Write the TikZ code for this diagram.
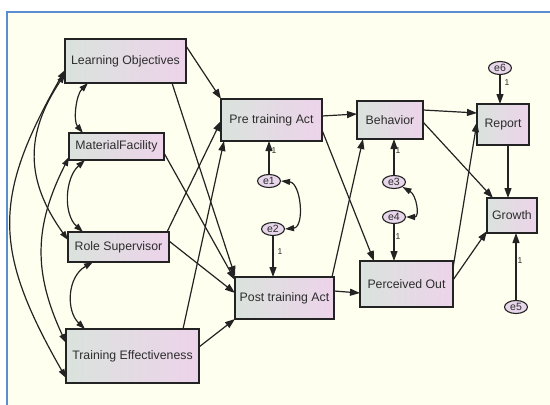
\documentclass[tikz,border=0pt]{standalone}
\usepackage{fontspec}
\setmainfont{Liberation Sans}
\usetikzlibrary{arrows.meta,calc,shapes.geometric}

\definecolor{bgcream}{RGB}{255,255,240}
\definecolor{frameblue}{RGB}{90,142,208}
\definecolor{boxleft}{RGB}{218,227,221}
\definecolor{boxright}{RGB}{237,211,234}
\definecolor{errfill}{RGB}{232,214,234}
\definecolor{ink}{RGB}{35,35,35}
\definecolor{txt}{RGB}{45,45,45}

\begin{document}
\begin{tikzpicture}[x=1pt,y=-1pt,
  varbox/.style={draw=ink, line width=1.3pt, left color=boxleft, right color=boxright,
    text=txt, font=\fontsize{12.3}{14}\selectfont, inner sep=0pt},
  errnode/.style={ellipse, draw=ink, line width=1.1pt, fill=errfill, text=txt,
    font=\fontsize{10.5}{12}\selectfont, inner sep=0pt, minimum width=23pt, minimum height=13pt},
  patharrow/.style={draw=ink, line width=1.2pt, -{Triangle[length=10pt,width=7pt]}},
  cov/.style={draw=ink, line width=1.2pt, {Triangle[length=9pt,width=6pt]}-{Triangle[length=9pt,width=6pt]}},
  onelbl/.style={font=\fontsize{8.5}{9}\selectfont, text=txt, inner sep=0pt}
]
\useasboundingbox (0,0) rectangle (550,405);
\clip (0,0) rectangle (550,405);
\fill[white] (0,0) rectangle (550,405);
\draw[frameblue, line width=1.6pt, fill=bgcream] (7,12) rectangle (560,415);

% observed variables
\node[varbox, minimum width=121pt, minimum height=44pt] (lo) at (125.5,61) {Learning Objectives};
\node[varbox, minimum width=95pt, minimum height=27pt] (mf) at (116.5,146.5) {MaterialFacility};
\node[varbox, minimum width=101pt, minimum height=30pt] (rs) at (118.5,247) {Role Supervisor};
\node[varbox, minimum width=133pt, minimum height=54pt] (te) at (132.5,356) {Training Effectiveness};
\node[varbox, minimum width=101pt, minimum height=42pt] (pre) at (271.5,120) {Pre training Act};
\node[varbox, minimum width=99pt, minimum height=42pt] (post) at (284.5,298) {Post training Act};
\node[varbox, minimum width=66pt, minimum height=38pt] (beh) at (390,120) {Behavior};
\node[varbox, minimum width=93pt, minimum height=46pt] (per) at (406.5,284) {Perceived Out};
\node[varbox, minimum width=52pt, minimum height=41pt] (rep) at (503,124.5) {Report};
\node[varbox, minimum width=50pt, minimum height=35pt] (gro) at (512,215.5) {Growth};

% error terms
\node[errnode] (e1) at (269,181) {e1};
\node[errnode] (e2) at (273,229) {e2};
\node[errnode] (e3) at (394,182) {e3};
\node[errnode] (e4) at (394,217) {e4};
\node[errnode] (e5) at (516,307) {e5};
\node[errnode] (e6) at (500,68) {e6};

% regression paths
\draw[patharrow] ($(lo.center)+(60.5,-15)$) -- ($(pre.center)+(-50.5,-21)$);
\draw[patharrow] ($(lo.center)+(46.5,22)$) -- ($(post.center)+(-49.5,-22)$);
\draw[patharrow] ($(mf.center)+(47.5,6.5)$) -- ($(post.center)+(-49.5,-18)$);
\draw[patharrow] ($(rs.center)+(48.5,-15)$) -- ($(pre.center)+(-50.5,1)$);
\draw[patharrow] ($(rs.center)+(50.5,-6)$) -- ($(post.center)+(-49.5,-5)$);
\draw[patharrow] ($(te.center)+(50.5,-27)$) -- ($(pre.center)+(-47.5,21)$);
\draw[patharrow] ($(te.center)+(66.5,-9)$) -- ($(post.center)+(-49.5,21)$);
\draw[patharrow] ($(pre.center)+(50.5,-4)$) -- ($(beh.center)+(-33,-6)$);
\draw[patharrow] ($(pre.center)+(50.5,10)$) -- ($(per.center)+(-32.5,-23)$);
\draw[patharrow] ($(post.center)+(47.5,-21)$) -- ($(beh.center)+(-27,19)$);
\draw[patharrow] ($(post.center)+(49.5,-7)$) -- ($(per.center)+(-46.5,9)$);
\draw[patharrow] ($(beh.center)+(33,-10)$) -- ($(rep.center)+(-26,-11.5)$);
\draw[patharrow] ($(beh.center)+(33,2)$) -- ($(gro.center)+(-19,-17.5)$);
\draw[patharrow] ($(per.center)+(46.5,-16)$) -- ($(rep.center)+(-26,-2.5)$);
\draw[patharrow] ($(per.center)+(46.5,-4)$) -- ($(gro.center)+(-25,15.5)$);
\draw[patharrow] ($(rep.center)+(5,20.5)$) -- ($(gro.center)+(-4,-17.5)$);

% error paths
\draw[patharrow] (e1.north) -- ($(pre.center)+(-2.5,21)$);
\draw[patharrow] (e2.south) -- ($(post.center)+(-11.5,-21)$);
\draw[patharrow] (e3.north) -- ($(beh.center)+(4,19)$);
\draw[patharrow] (e4.south) -- ($(per.center)+(-12.5,-23)$);
\draw[patharrow] (e6.south) -- ($(rep.center)+(-3,-20.5)$);
\draw[patharrow] (e5.north) -- ($(gro.center)+(4,17.5)$);

% covariances
\draw[cov] ($(lo.center)+(-37.5,22)$) .. controls +(-12,12) and +(-10,-12) .. ($(mf.center)+(-33.5,-13.5)$);
\draw[cov] ($(mf.center)+(-31.5,13.5)$) .. controls +(-20,18) and +(-20,-18) .. ($(rs.center)+(-35.5,-15)$);
\draw[cov] ($(rs.center)+(-25.5,15)$) .. controls +(-26,15) and +(-19,-18) .. ($(te.center)+(-47.5,-27)$);
\draw[cov] ($(lo.center)+(-60.5,13)$) .. controls +(-40,60) and +(-43,-60) .. ($(rs.center)+(-50.5,-7)$);
\draw[cov] ($(mf.center)+(-47.5,10.5)$) .. controls +(-35.5,70) and +(-32.5,-70) .. ($(te.center)+(-66.5,-13)$);
\draw[cov] ($(lo.center)+(-60.5,9)$) .. controls +(-73,128) and +(-73,-128) .. ($(te.center)+(-66.5,22)$);
\draw[cov] (e1.east) .. controls +(20,2) and +(20,-2) .. (e2.east);
\draw[cov] (e3.south east) .. controls +(14,8) and +(14,0) .. (e4.east);

% path coefficients
\node[onelbl] (l1) at (274,151) {1};
\node[onelbl] (l2) at (280,252) {1};
\node[onelbl] (l3) at (398,151) {1};
\node[onelbl] (l4) at (398,237) {1};
\node[onelbl] (l6) at (507,83) {1};
\node[onelbl] (l5) at (520,261) {1};
\end{tikzpicture}
\end{document}
